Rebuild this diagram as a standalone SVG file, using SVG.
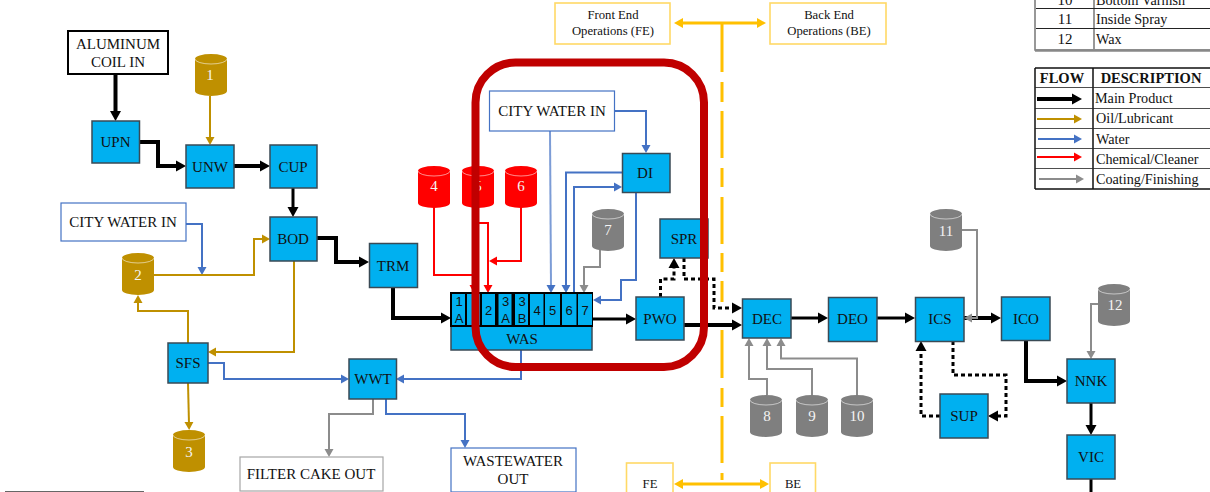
<svg xmlns="http://www.w3.org/2000/svg" width="1210" height="492" viewBox="0 0 1210 492">
<style>
text{font-family:"Liberation Serif","Times New Roman",serif;font-size:15px;fill:#111;text-anchor:middle}
.n{fill:#00b0f0;stroke:#3a4a55;stroke-width:1.5}
.c text{fill:#f4f4f4;font-size:15px}
.b{fill:#fff;stroke:#4472c4;stroke-width:1.2}
.y{fill:#fff;stroke:#ffd966;stroke-width:1.6}
.l{fill:none;stroke-linejoin:miter}
.k{stroke:#000;stroke-width:4;marker-end:url(#ak)}
.k3{stroke:#000;stroke-width:3;marker-end:url(#ak)}
.d{stroke:#000;stroke-width:3;stroke-dasharray:4 3;marker-end:url(#ak)}
.g{stroke:#bf9000;stroke-width:2;marker-end:url(#ag)}
.w{stroke:#4472c4;stroke-width:2;marker-end:url(#aw)}
.r{stroke:#f00;stroke-width:2;marker-end:url(#ar)}
.e{stroke:#8c8c8c;stroke-width:2;marker-end:url(#ae)}
.cell{font-family:"Liberation Sans",Arial,sans-serif;font-size:13px}
.t{font-size:14.200px;text-anchor:start}
.s{font-size:12.700px}
.tb{fill:none;stroke:#222;stroke-width:1.2}
</style>
<defs>
<marker id="ak" markerUnits="userSpaceOnUse" markerWidth="11" markerHeight="12" refX="2" refY="6" orient="auto"><path d="M0 .5L10 6L0 11.5z" fill="#000"/></marker>
<marker id="ag" markerUnits="userSpaceOnUse" markerWidth="9" markerHeight="10" refX="2" refY="5" orient="auto"><path d="M0 .5L8 5L0 9.500z" fill="#bf9000"/></marker>
<marker id="aw" markerUnits="userSpaceOnUse" markerWidth="9" markerHeight="10" refX="2" refY="5" orient="auto"><path d="M0 .5L8 5L0 9.500z" fill="#4472c4"/></marker>
<marker id="ar" markerUnits="userSpaceOnUse" markerWidth="9" markerHeight="10" refX="2" refY="5" orient="auto"><path d="M0 .5L8 5L0 9.500z" fill="#f00"/></marker>
<marker id="ae" markerUnits="userSpaceOnUse" markerWidth="9" markerHeight="10" refX="2" refY="5" orient="auto"><path d="M0 .5L8 5L0 9.500z" fill="#8c8c8c"/></marker>
<marker id="ay" markerUnits="userSpaceOnUse" markerWidth="10" markerHeight="12" refX="1" refY="6" orient="auto-start-reverse"><path d="M0 1L9 6L0 11z" fill="#ffc000"/></marker>
<g id="cyl"><path d="M0 5A16 5 0 0 1 32 5V37A16 5 0 0 1 0 37Z"/><path d="M0 5A16 5 0 0 0 32 5" fill="none" stroke="#fff" stroke-opacity=".55" stroke-width="1"/></g>
</defs>

<g id="connectors" class="l">
<path class="l" d="M722 23V72M722 82V102M722 111V158M722 168V187M722 197V244M722 253V272M722 281V302M722 330V378M722 388V407M722 416V463M722 473V480" stroke="#ffc000" stroke-width="3"/>
<path class="l" d="M682 23H758" stroke="#ffc000" stroke-width="3" marker-start="url(#ay)" marker-end="url(#ay)"/>
<path class="l" d="M682 484H761" stroke="#ffc000" stroke-width="3" marker-start="url(#ay)" marker-end="url(#ay)"/>
<path class="l k" d="M115.500 74V113"/>
<path class="l k" d="M139 142H158V166H178"/>
<path class="l k" d="M234 166H262"/>
<path class="l k3" d="M293 188V209"/>
<path class="l k" d="M317 238H336V262H361"/>
<path class="l k" d="M393 287V318H443"/>
<path class="l g" d="M210 96V139"/>
<path class="l w" d="M186 224H202V269"/>
<path class="l g" d="M154 275H254V239H264"/>
<path class="l g" d="M294 261V352H214"/>
<path class="l g" d="M188 343V311H138V301"/>
<path class="l g" d="M188 383L189 424"/>
<path class="l w" d="M208 363H224V379H343"/>
<path class="l w" d="M521 350V379H402"/>
<path class="l e" d="M373 399V414H329V451"/>
<path class="l w" d="M386 399V414H465V442"/>
<path class="l r" d="M434 207V275H474V287"/>
<path class="l r" d="M478 207V223H488V287"/>
<path class="l r" d="M521 207V261H495"/>
<path class="l w" stroke-opacity=".7" d="M550 131L551 287"/>
<path class="l w" d="M614 111H646V147"/>
<path class="l w" d="M622 172.500H566V287"/>
<path class="l w" d="M574 293V187H616"/>
<path class="l w" d="M636 192V280H621V300H599"/>
<path class="l e" d="M600 250V267H584V287"/>
<path class="l k3" d="M592 319H628"/>
<path class="l k" d="M684 325H734"/>
<path class="l d" d="M660.500 297V279H674V266"/>
<path class="l d" d="M684 258V279H714V308H734"/>
<path class="l k3" d="M791 318H820"/>
<path class="l k3" d="M877 318H907"/>
<path class="l k" d="M964 318H993"/>
<path class="l e" d="M962 230H977V318H970"/>
<path class="l e" d="M767 395V379H749V344"/>
<path class="l e" d="M812 395V369H767V344"/>
<path class="l e" d="M857 395V358.500H781V344"/>
<path class="l d" d="M953 341V375H1006V416H996"/>
<path class="l d" d="M940 416H921V349"/>
<path class="l k" d="M1026 340V381H1059"/>
<path class="l e" d="M1098 304H1091V353"/>
<path class="l k3" d="M1091 403V427"/>
<path class="l" d="M1091 479V492" stroke="#000" stroke-width="3"/>
</g>

<g id="aluminum-coil-in"><rect x="68" y="31" width="100" height="43" fill="#fff" stroke="#000" stroke-width="2"/><text x="118" y="49">ALUMINUM</text><text x="118" y="67">COIL IN</text></g>
<g id="city-water-left"><rect class="b" x="61" y="203" width="125" height="38"/><text x="123" y="227">CITY WATER IN</text></g>
<g id="city-water-center"><rect class="b" x="489.500" y="91" width="125" height="40"/><text x="552" y="116">CITY WATER IN</text></g>
<g id="filter-cake-out"><rect x="240" y="457" width="143" height="34" fill="#fff" stroke="#a6a6a6" stroke-width="1.2"/><text x="311" y="479">FILTER CAKE OUT</text></g>
<g id="wastewater-out"><rect class="b" x="451" y="448" width="125" height="44"/><text x="513" y="466">WASTEWATER</text><text x="513" y="484">OUT</text></g>
<g id="front-end"><rect class="y" x="555" y="3" width="115" height="41"/><text class="s" x="613" y="19">Front End</text><text class="s" x="613" y="35">Operations (FE)</text></g>
<g id="back-end"><rect class="y" x="770" y="3" width="116" height="41"/><text class="s" x="829" y="19">Back End</text><text class="s" x="829" y="35">Operations (BE)</text></g>
<g id="fe"><rect class="y" x="626.500" y="463" width="46.500" height="32"/><text class="s" x="650" y="488">FE</text></g>
<g id="be"><rect class="y" x="770" y="463" width="45.500" height="32"/><text class="s" x="793" y="488">BE</text></g>

<g id="UPN"><rect class="n" x="92" y="121" width="47.500" height="42"/><text x="115.500" y="147">UPN</text></g>
<g id="UNW"><rect class="n" x="186" y="145" width="48" height="43"/><text x="210" y="172">UNW</text></g>
<g id="CUP"><rect class="n" x="270" y="145" width="47" height="43"/><text x="293" y="172">CUP</text></g>
<g id="BOD"><rect class="n" x="270" y="217" width="47" height="44"/><text x="293" y="244">BOD</text></g>
<g id="TRM"><rect class="n" x="369.500" y="243.500" width="48" height="44"/><text x="393" y="271">TRM</text></g>
<g id="SFS"><rect class="n" x="168" y="343" width="40" height="40"/><text x="188" y="368">SFS</text></g>
<g id="WWT"><rect class="n" x="349" y="359" width="47.500" height="40"/><text x="373" y="384">WWT</text></g>
<g id="DI"><rect class="n" x="622.500" y="153.500" width="47.500" height="39"/><text x="645" y="178">DI</text></g>
<g id="SPR"><rect class="n" x="660" y="219" width="48" height="39"/><text x="684" y="244">SPR</text></g>
<g id="PWO"><rect class="n" x="636" y="297" width="48" height="43"/><text x="660" y="324">PWO</text></g>
<g id="WAS">
<rect class="n" x="451" y="293" width="141" height="57"/>
<rect x="450" y="292" width="143" height="35" fill="#000"/>
<rect x="452" y="294" width="13" height="31" fill="#00b0f0"/>
<rect x="467" y="294" width="13" height="31" fill="#00b0f0"/>
<rect x="482" y="294" width="13" height="31" fill="#00b0f0"/>
<rect x="498.500" y="294" width="13" height="31" fill="#00b0f0"/>
<rect x="515" y="294" width="13" height="31" fill="#00b0f0"/>
<rect x="530" y="294" width="13.500" height="31" fill="#00b0f0"/>
<rect x="545" y="294" width="15" height="31" fill="#00b0f0"/>
<rect x="562" y="294" width="14.500" height="31" fill="#00b0f0"/>
<rect x="578" y="294" width="14" height="31" fill="#00b0f0"/>
<text class="cell" x="459" y="306">1</text><text class="cell" x="459" y="323">A</text>
<text class="cell" x="488.500" y="315">2</text>
<text class="cell" x="505.500" y="306">3</text><text class="cell" x="505.500" y="323">A</text>
<text class="cell" x="522" y="306">3</text><text class="cell" x="522" y="323">B</text>
<text class="cell" x="537" y="315">4</text>
<text class="cell" x="552.500" y="315">5</text>
<text class="cell" x="569" y="315">6</text>
<text class="cell" x="585" y="315">7</text>
<text x="522" y="344">WAS</text>
</g>
<g id="DEC"><rect class="n" x="742.500" y="299" width="48.500" height="39"/><text x="767" y="324">DEC</text></g>
<g id="DEO"><rect class="n" x="828.500" y="297.500" width="48.500" height="44"/><text x="852.500" y="324">DEO</text></g>
<g id="ICS"><rect class="n" x="915.500" y="297.500" width="48.500" height="44"/><text x="940" y="324">ICS</text></g>
<g id="ICO"><rect class="n" x="1001.500" y="297" width="48.500" height="43.500"/><text x="1026" y="324">ICO</text></g>
<g id="NNK"><rect class="n" x="1067" y="359" width="48" height="44"/><text x="1091" y="386">NNK</text></g>
<g id="VIC"><rect class="n" x="1067" y="435" width="48" height="44"/><text x="1091" y="462">VIC</text></g>
<g id="SUP"><rect class="n" x="940" y="394" width="48" height="44"/><text x="964" y="421">SUP</text></g>

<g id="cyl1" class="c"><use href="#cyl" x="195" y="54" fill="#bf9000"/><text x="210" y="80">1</text></g>
<g id="cyl2" class="c"><use href="#cyl" x="122" y="253" fill="#bf9000"/><text x="138" y="280">2</text></g>
<g id="cyl3" class="c"><use href="#cyl" x="173" y="430" fill="#bf9000"/><text x="189" y="457">3</text></g>
<g id="cyl4" class="c"><use href="#cyl" x="418" y="166" fill="#f00"/><text x="434" y="191">4</text></g>
<g id="cyl5" class="c"><use href="#cyl" x="462" y="166" fill="#f00"/><text x="478" y="191">5</text></g>
<g id="cyl6" class="c"><use href="#cyl" x="505" y="166" fill="#f00"/><text x="521" y="191">6</text></g>
<g id="cyl7" class="c"><use href="#cyl" x="592" y="209" fill="#7f7f7f"/><text x="608" y="235">7</text></g>
<g id="cyl8" class="c"><use href="#cyl" x="750" y="395" fill="#7f7f7f"/><text x="767" y="421">8</text></g>
<g id="cyl9" class="c"><use href="#cyl" x="796" y="395" fill="#7f7f7f"/><text x="812" y="421">9</text></g>
<g id="cyl10" class="c"><use href="#cyl" x="841" y="395" fill="#7f7f7f"/><text x="857" y="421">10</text></g>
<g id="cyl11" class="c"><use href="#cyl" x="930" y="209" fill="#7f7f7f"/><text x="946" y="236">11</text></g>
<g id="cyl12" class="c"><use href="#cyl" x="1098" y="284" fill="#7f7f7f"/><text x="1115" y="310">12</text></g>

<g id="table-top">
<path d="M1035 -2V50H1210M1094 -2V49" fill="none" stroke="#777" stroke-width="1.5"/>
<path class="tb" d="M1036 8.500H1210M1036 28.500H1210"/>
<path d="M1035 50.500H1210" stroke="#888" stroke-width="2.500"/>
<text x="1065" y="5">10</text><text class="t" x="1096" y="5">Bottom Varnish</text>
<text x="1065" y="24">11</text><text class="t" x="1096" y="24">Inside Spray</text>
<text x="1065" y="44">12</text><text class="t" x="1096" y="44">Wax</text>
</g>
<g id="table-flow">
<path d="M1035 68H1210M1035 189H1210M1035 68V189M1093 68V189" fill="none" stroke="#111" stroke-width="1.500"/>
<path class="tb" stroke-opacity=".8" d="M1035 87.500H1210M1035 108.500H1210M1035 128.500H1210M1035 148.500H1210M1035 168.500H1210"/>
<text x="1062" y="83" style="font-size:14.500px;font-weight:bold">FLOW</text>
<text x="1151" y="83" style="font-size:14.500px;font-weight:bold">DESCRIPTION</text>
<path class="l k" d="M1037 99H1074"/>
<path class="l g" d="M1037 119H1076"/>
<path class="l w" d="M1038 139H1076"/>
<path class="l r" d="M1037 157H1076"/>
<path class="l e" d="M1039 179H1078"/>
<text class="t" x="1095" y="103">Main Product</text>
<text class="t" x="1096" y="123">Oil/Lubricant</text>
<text class="t" x="1096" y="144">Water</text>
<text class="t" x="1096" y="164">Chemical/Cleaner</text>
<text class="t" x="1096" y="184">Coating/Finishing</text>
</g>
<rect id="highlight-frame" x="475.500" y="62.500" width="228.500" height="304.500" rx="40" fill="none" stroke="#c00000" stroke-width="8"/>
<path id="footnote-rule" d="M5 491.500H144" stroke="#666" stroke-width="1"/>
</svg>
